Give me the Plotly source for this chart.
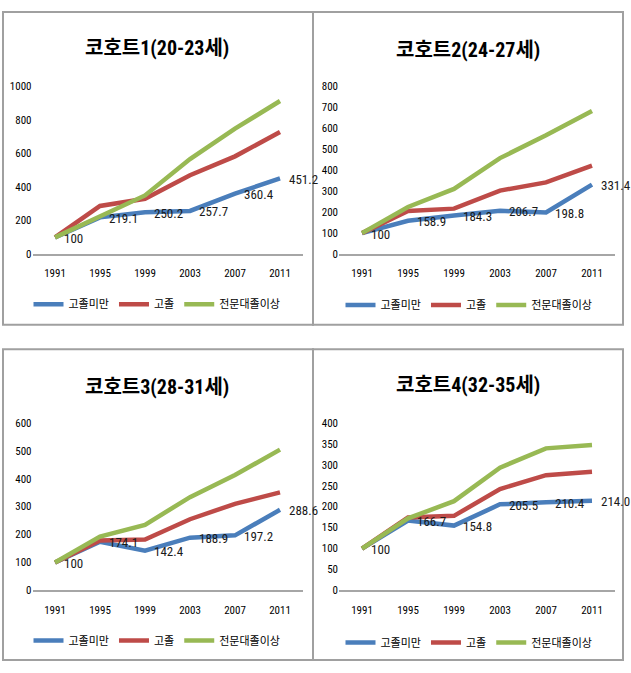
import plotly.graph_objects as go

years = ["1991", "1995", "1999", "2003", "2007", "2011"]
series_names = ["고졸미만", "고졸", "전문대졸이상"]
titles = ["코호트1(20-23세)", "코호트2(24-27세)", "코호트3(28-31세)", "코호트4(32-35세)"]

# cohort 1
c1_low = [100, 219.1, 250.2, 257.7, 360.4, 451.2]
c1_high = [100, 287, 330, 470, 583, 728]
c1_college = [100, 223, 350, 567, 748, 913]
c1_labels = ["100", "219.1", "250.2", "257.7", "360.4", "451.2"]
# cohort 2
c2_low = [100, 158.9, 184.3, 206.7, 198.8, 331.4]
c2_high = [100, 206, 217, 303, 342, 422]
c2_college = [100, 225, 311, 458, 567, 683]
c2_labels = ["100", "158.9", "184.3", "206.7", "198.8", "331.4"]
# cohort 3
c3_low = [100, 174.1, 142.4, 188.9, 197.2, 288.6]
c3_high = [100, 179, 182, 255, 310, 351]
c3_college = [100, 193, 235, 334, 413, 504]
c3_labels = ["100", "174.1", "142.4", "188.9", "197.2", "288.6"]
# cohort 4
c4_low = [100, 166.7, 154.8, 205.5, 210.4, 214.0]
c4_high = [100, 174, 178, 242, 275, 283]
c4_college = [100, 172, 213, 293, 339, 347]
c4_labels = ["100", "166.7", "154.8", "205.5", "210.4", "214.0"]

y_max = [1000, 800, 600, 400]
y_step = [200, 100, 100, 50]

colors = ["#4A7EBB", "#BE4B48", "#98B954"]

W, H = 631, 673
NUM_FONT = "Roboto Condensed, Noto Sans CJK KR, sans-serif"
KR_FONT = "Roboto Condensed, Noto Sans CJK KR, sans-serif"

def px(x):
    return x / W

def py(y):
    return 1 - y / H

panels = [
    dict(x=(32.5, 302.5), y=(253, 82), title=(157, 43), legend=(157, 304), box=(3, 6, 313, 325)),
    dict(x=(339, 615), y=(253, 82), title=(468, 45), legend=(469, 305), box=(313, 6, 623, 325)),
    dict(x=(32.5, 302.5), y=(596, 425), title=(157, 388), legend=(157, 647), box=(3, 350, 313, 667)),
    dict(x=(339, 615), y=(596, 425), title=(468, 386), legend=(469, 649), box=(313, 350, 623, 667)),
]

data = [
    (c1_low, c1_high, c1_college, c1_labels),
    (c2_low, c2_high, c2_college, c2_labels),
    (c3_low, c3_high, c3_college, c3_labels),
    (c4_low, c4_high, c4_college, c4_labels),
]

fig = go.Figure()
layout = dict(
    width=W, height=H,
    margin=dict(l=0, r=0, t=0, b=0),
    paper_bgcolor="white", plot_bgcolor="white",
    annotations=[], shapes=[],
    font=dict(family=NUM_FONT, color="black", size=11),
)

for i, (p, d) in enumerate(zip(panels, data)):
    n = i + 1
    xa = "x" if n == 1 else f"x{n}"
    ya = "y" if n == 1 else f"y{n}"
    lg = "legend" if n == 1 else f"legend{n}"
    for j in range(3):
        fig.add_trace(go.Scatter(
            x=years, y=d[j], mode="lines", name=series_names[j],
            line=dict(color=colors[j], width=4.5),
            xaxis=xa, yaxis=ya, legend=lg, hoverinfo="skip",
        ))
    # data labels of the first series (category axis -> category index)
    for k, (val, lab) in enumerate(zip(d[0], d[3])):
        layout["annotations"].append(dict(
            text=lab, x=k, y=val, xref=xa, yref=ya,
            xanchor="left", yanchor="middle", xshift=7, yshift=-1,
            showarrow=False,
            font=dict(family=NUM_FONT, size=13, color="#1a1a1a"),
        ))
    xk = "xaxis" if n == 1 else f"xaxis{n}"
    yk = "yaxis" if n == 1 else f"yaxis{n}"
    layout[xk] = dict(
        domain=[px(p["x"][0]), px(p["x"][1])], anchor=ya, type="category",
        range=[-0.5, 5.5], showline=True, linecolor="#A6A6A6", linewidth=2,
        showgrid=False, zeroline=False, ticks="", ticklabelstandoff=8,
        tickfont=dict(family=NUM_FONT, size=11, color="black"),
    )
    layout[yk] = dict(
        domain=[py(p["y"][0]), py(p["y"][1])], anchor=xa,
        range=[0, y_max[i]], dtick=y_step[i], tick0=0, showline=False,
        showgrid=False, zeroline=False, ticks="",
        tickfont=dict(family=NUM_FONT, size=11, color="black"),
    )
    layout[lg] = dict(
        orientation="h", xanchor="center", yanchor="middle",
        x=px(p["legend"][0]), y=py(p["legend"][1]),
        font=dict(family=KR_FONT, size=11, color="black"),
        itemwidth=30, bgcolor="rgba(0,0,0,0)", tracegroupgap=0,
    )
    layout["annotations"].append(dict(
        text=f"<b>{titles[i]}</b>", x=px(p["title"][0]), y=py(p["title"][1]),
        xref="paper", yref="paper", xanchor="center", yanchor="middle",
        showarrow=False, font=dict(family=KR_FONT, size=20, color="black"),
    ))
    b = p["box"]
    layout["shapes"].append(dict(
        type="rect", xref="paper", yref="paper",
        x0=px(b[0]), y0=py(b[1]), x1=px(b[2]), y1=py(b[3]),
        line=dict(color="#A0A0A0", width=2), fillcolor="rgba(0,0,0,0)",
    ))

fig.update_layout(**layout)
fig.write_html(
    "out.html",
    config={"displayModeBar": False},
    post_script="document.body.style.margin='0px';document.body.style.overflow='hidden';",
)
